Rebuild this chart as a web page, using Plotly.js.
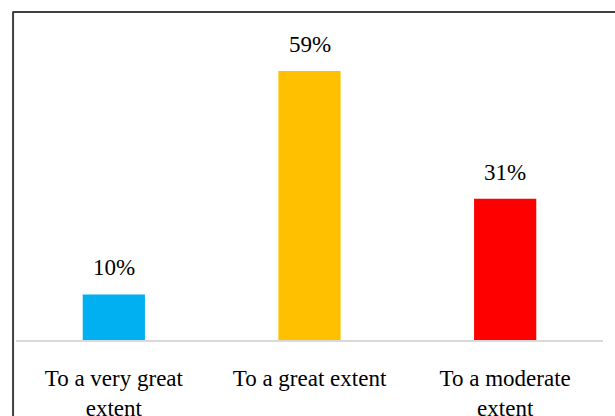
<!DOCTYPE html>
<html>
<head>
<meta charset="utf-8">
<script src="https://cdn.plot.ly/plotly-3.0.1.min.js"></script>
<style>html,body{margin:0;padding:0;background:#fff;}#chart{width:615px;height:416px;}</style>
</head>
<body>
<div id="chart"></div>
<script>
const categories = ["To a very great<br>extent", "To a great extent", "To a moderate<br>extent"];
const values = [10, 59, 31];
const labels = ["10%", "59%", "31%"];
const colors = ["#00b0f0", "#ffc000", "#ff0000"];

const fontFam = '"Liberation Serif", "Times New Roman", Times, serif';

const trace = {
  type: "bar",
  x: categories,
  y: values,
  marker: {color: colors},
  width: 0.318,
  hoverinfo: "skip"
};

const annotations = categories.map((c, i) => ({
  x: c, y: values[i], text: labels[i],
  xref: "x", yref: "y", showarrow: false,
  yanchor: "bottom", yshift: 12,
  font: {family: fontFam, size: 23, color: "#000"}
}));

const layout = {
  width: 615, height: 416,
  margin: {l: 16, r: 12, t: 14, b: 76},
  paper_bgcolor: "#fff", plot_bgcolor: "#fff",
  showlegend: false,
  bargap: 0.68,
  xaxis: {
    showline: true, linecolor: "#d9d9d9", linewidth: 1.5,
    showgrid: false, zeroline: false, ticks: "",
    tickfont: {family: fontFam, size: 23, color: "#000"},
    ticklabelstandoff: 17
  },
  yaxis: {
    range: [0, 71.5], visible: false, showgrid: false, zeroline: false
  },
  annotations: annotations,
  shapes: [
    {type: "line", xref: "paper", yref: "paper", x0: -0.005, x1: -0.005, y0: 1.006, y1: -0.3,
     line: {color: "#404040", width: 2}},
    {type: "line", xref: "paper", yref: "paper", x0: -0.006, x1: 1.1, y0: 1.006, y1: 1.006,
     line: {color: "#404040", width: 2}}
  ]
};

Plotly.newPlot("chart", [trace], layout, {displayModeBar: false, staticPlot: true});
</script>
</body>
</html>
